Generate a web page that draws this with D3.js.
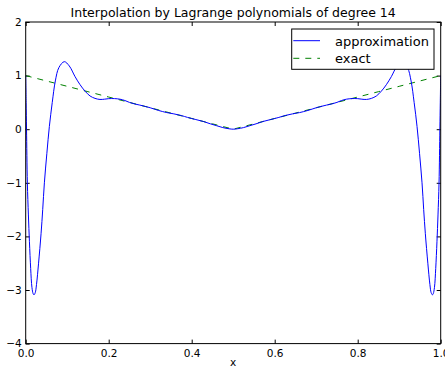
<!DOCTYPE html>
<html>
<head>
<meta charset="utf-8">
<title>lagrange</title>
<script src="https://cdn.jsdelivr.net/npm/d3@7/dist/d3.min.js"></script>
<style>
  body { margin: 0; background: #fff; }
  text { font-family: "DejaVu Sans", sans-serif; fill: #000; }
</style>
</head>
<body>
<div id="chart"></div>
<script>
// approximation
const approxX = [0, 0.001, 0.002, 0.004, 0.0065, 0.009, 0.012, 0.015, 0.018, 0.020, 0.023, 0.026, 0.031, 0.037, 0.041, 0.045, 0.051, 0.057, 0.064, 0.0714, 0.08, 0.093, 0.105, 0.119, 0.131, 0.143, 0.155, 0.167, 0.179, 0.19, 0.2, 0.214, 0.227, 0.239, 0.25, 0.263, 0.275, 0.286, 0.3, 0.32, 0.34, 0.357, 0.375, 0.39, 0.41, 0.4286, 0.445, 0.46, 0.475, 0.49, 0.5,
  0.51, 0.525, 0.54, 0.555, 0.5714, 0.59, 0.61, 0.625, 0.643, 0.66, 0.68, 0.7, 0.714, 0.725, 0.737, 0.75, 0.761, 0.773, 0.786, 0.8, 0.81, 0.821, 0.833, 0.845, 0.857, 0.869, 0.881, 0.895, 0.907, 0.92, 0.9286, 0.936, 0.943, 0.949, 0.955, 0.959, 0.963, 0.969, 0.974, 0.977, 0.980, 0.982, 0.985, 0.988, 0.991, 0.9935, 0.996, 0.998, 0.999, 1];
const approxY = [1.0, 0.5, 0.0, -1.0, -1.6, -2.1, -2.6, -2.95, -3.07, -3.09, -3.05, -2.9, -2.5, -1.95, -1.5, -1.0, -0.45, 0.05, 0.5, 0.9, 1.15, 1.26, 1.18, 0.98, 0.83, 0.71, 0.62, 0.575, 0.555, 0.56, 0.57, 0.571, 0.56, 0.535, 0.5, 0.47, 0.45, 0.429, 0.40, 0.35, 0.31, 0.286, 0.255, 0.22, 0.18, 0.143, 0.10, 0.065, 0.03, 0.008, 0.0,
  0.008, 0.03, 0.065, 0.10, 0.143, 0.18, 0.22, 0.255, 0.286, 0.31, 0.35, 0.40, 0.429, 0.45, 0.47, 0.5, 0.535, 0.56, 0.571, 0.57, 0.56, 0.555, 0.575, 0.62, 0.71, 0.83, 0.98, 1.18, 1.26, 1.15, 0.9, 0.5, 0.05, -0.45, -1.0, -1.5, -1.95, -2.5, -2.9, -3.05, -3.09, -3.07, -2.95, -2.6, -2.1, -1.6, -1.0, 0.0, 0.5, 1.0];

// exact curve
const exactX = [0, 0.05, 0.1, 0.15, 0.2, 0.25, 0.3, 0.35, 0.4, 0.45, 0.5, 0.55, 0.6, 0.65, 0.7, 0.75, 0.8, 0.85, 0.9, 0.95, 1];
const exactY = [1.0, 0.9, 0.8, 0.7, 0.6, 0.5, 0.4, 0.3, 0.2, 0.1, 0.0, 0.1, 0.2, 0.3, 0.4, 0.5, 0.6, 0.7, 0.8, 0.9, 1.0];

const xTicks = [0, 0.2, 0.4, 0.6, 0.8, 1.0];
const yTicks = [-4, -3, -2, -1, 0, 1, 2];
const seriesNames = ['approximation', 'exact'];

const w = 445, h = 369;
const margin = {top: 22, right: 4.3, bottom: 25.4, left: 25.7};
const iw = w - margin.left - margin.right;
const ih = h - margin.top - margin.bottom;

const svg = d3.select('#chart').append('svg')
    .attr('width', w)
    .attr('height', h);

const main = svg.append('g')
    .attr('transform', `translate(${margin.left}, ${margin.top})`);

const x = d3.scaleLinear().domain([0, 1]).range([0, iw]);
const y = d3.scaleLinear().domain([-4, 2]).range([ih, 0]);

svg.append('defs').append('clipPath').attr('id', 'clip')
  .append('rect').attr('width', iw).attr('height', ih);

const minus = d => d3.format('.0f')(d).replace('-', '\u2212');

// ticks inside, all four sides
const tickLen = 4;
const bottomAxis = d3.axisBottom(x).tickValues(xTicks).tickSize(-tickLen).tickPadding(6).tickFormat(d3.format('.1f'));
const topAxis = d3.axisTop(x).tickValues(xTicks).tickSize(-tickLen).tickFormat('');
const leftAxis = d3.axisLeft(y).tickValues(yTicks).tickSize(-tickLen).tickPadding(4).tickFormat(minus);
const rightAxis = d3.axisRight(y).tickValues(yTicks).tickSize(-tickLen).tickFormat('');

function styleAxis(g) {
  g.select('.domain').remove();
  g.selectAll('.tick line').attr('stroke', '#000');
  g.selectAll('text').attr('font-size', 10.5).attr('font-family', '"DejaVu Sans", sans-serif').attr('fill', '#000');
}
main.append('g').attr('transform', `translate(0,${ih})`).call(bottomAxis).call(styleAxis);
main.append('g').call(topAxis).call(styleAxis);
main.append('g').call(leftAxis).call(styleAxis);
main.append('g').attr('transform', `translate(${iw},0)`).call(rightAxis).call(styleAxis);

const plot = main.append('g').attr('clip-path', 'url(#clip)');

const line = d3.line()
    .x(d => x(d[0]))
    .y(d => y(d[1]));

plot.append('path')
    .datum(d3.zip(exactX, exactY))
    .attr('d', line)
    .attr('fill', 'none')
    .attr('stroke', '#008000')
    .attr('stroke-width', 1)
    .attr('stroke-dasharray', '6,6');

plot.append('path')
    .datum(d3.zip(approxX, approxY))
    .attr('d', line.curve(d3.curveCatmullRom.alpha(0.5)))
    .attr('fill', 'none')
    .attr('stroke', '#0000ff')
    .attr('stroke-width', 1);

// frame
main.append('rect')
    .attr('width', iw).attr('height', ih)
    .attr('fill', 'none').attr('stroke', '#000').attr('stroke-width', 1);

// title + x label
svg.append('text')
    .attr('x', margin.left + iw / 2).attr('y', 17)
    .attr('text-anchor', 'middle').attr('font-size', 12.5)
    .text('Interpolation by Lagrange polynomials of degree 14');

svg.append('text')
    .attr('x', margin.left + iw / 2).attr('y', 366)
    .attr('text-anchor', 'middle').attr('font-size', 10.5)
    .text('x');

// legend
const lg = svg.append('g').attr('transform', 'translate(291.7, 29)');
lg.append('rect')
    .attr('width', 142.3).attr('height', 40.3)
    .attr('fill', '#fff').attr('stroke', '#000').attr('stroke-width', 1);
const legStyles = [{c: '#0000ff', dash: null}, {c: '#008000', dash: '6,6'}];
seriesNames.forEach((name, i) => {
  const yy = 11.7 + i * 17.6;
  lg.append('line')
      .attr('x1', 1.6).attr('x2', 28.3).attr('y1', yy).attr('y2', yy)
      .attr('stroke', legStyles[i].c).attr('stroke-width', 1)
      .attr('stroke-dasharray', legStyles[i].dash);
  lg.append('text')
      .attr('x', 43.3).attr('y', yy + 4.8)
      .attr('font-size', 13)
      .text(name);
});
</script>
</body>
</html>
